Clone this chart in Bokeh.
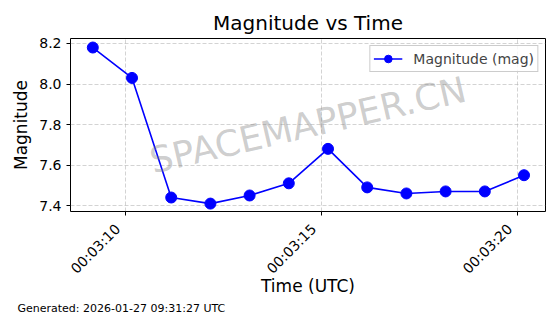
from datetime import datetime, timedelta
import math
from bokeh.plotting import figure
from bokeh.models import (Range1d, DatetimeTickFormatter, FixedTicker, DatetimeAxis,
                          NumeralTickFormatter, Label, Title)
from bokeh.embed import file_html
from bokeh.resources import INLINE

# ---- data ----
times_s = [9.166, 10.166, 11.166, 12.166, 13.166, 14.166, 15.166, 16.166, 17.166, 18.166, 19.166, 20.166]
magnitudes = [8.18, 8.03, 7.44, 7.41, 7.45, 7.51, 7.68, 7.49, 7.46, 7.47, 7.47, 7.55]
x_tick_seconds = [10, 15, 20]
y_ticks = [7.4, 7.6, 7.8, 8.0, 8.2]
title_text = "Magnitude vs Time"
x_label = "Time (UTC)"
y_label = "Magnitude"
legend_text = "Magnitude (mag)"
watermark = "SPACEMAPPER.CN"
footer = "Generated: 2026-01-27 09:31:27 UTC"

base = datetime(2026, 1, 27, 0, 3, 0)
xs = [base + timedelta(seconds=s) for s in times_s]

def ms(s):
    return (base + timedelta(seconds=s)).timestamp() * 1000.0

FONT = "DejaVu Sans"
X0, X1 = 8.597, 20.714
LABEL_SHIFT = 0.2  # seconds: moves rotated labels so their right end sits at the tick

p = figure(width=560, height=314, output_backend="svg", toolbar_location=None,
           x_axis_type="datetime",
           x_range=Range1d(ms(X0), ms(X1)), y_range=Range1d(7.371, 8.2245),
           min_border_left=70, min_border_right=15, min_border_top=38, min_border_bottom=102)
p.extra_x_ranges = {"lab": Range1d(ms(X0 + LABEL_SHIFT), ms(X1 + LABEL_SHIFT))}

p.title.text = title_text
p.title.align = "center"
p.title.text_font = FONT
p.title.text_font_size = "20px"
p.title.text_font_style = "normal"
p.title.text_color = "black"
p.title.standoff = 7

p.outline_line_color = "black"
p.outline_line_width = 1

p.line(xs, magnitudes, line_color="#0000ff", line_width=1.6, legend_label=legend_text)
p.scatter(xs, magnitudes, size=11, fill_color="#0000ff", line_color="#0000ff", legend_label=legend_text)

tick_ms = [ms(s) for s in x_tick_seconds]
fmt = DatetimeTickFormatter(seconds="%H:%M:%S", milliseconds="%H:%M:%S",
                            minsec="%H:%M:%S", minutes="%H:%M:%S")

# primary x axis: tick marks only
xa = p.xaxis[0]
xa.ticker = FixedTicker(ticks=tick_ms)
xa.formatter = fmt
xa.major_label_overrides = {t: "" for t in tick_ms}
xa.major_label_standoff = 0

ya = p.yaxis[0]
ya.ticker = FixedTicker(ticks=y_ticks)
ya.formatter = NumeralTickFormatter(format="0.0")
ya.axis_label = y_label

# secondary x axis: rotated labels + axis title
xa2 = DatetimeAxis(x_range_name="lab", ticker=FixedTicker(ticks=tick_ms), formatter=fmt)
xa2.major_label_orientation = math.pi / 4
xa2.axis_label = x_label
p.add_layout(xa2, "below")

for ax in (xa, ya, xa2):
    ax.axis_line_color = None
    ax.major_tick_out = 4
    ax.major_tick_in = 0
    ax.minor_tick_out = 0
    ax.minor_tick_in = 0
    ax.major_tick_line_color = "black"
    ax.major_label_text_font = FONT
    ax.major_label_text_font_size = "14px"
    ax.major_label_text_color = "black"
    ax.axis_label_text_font = FONT
    ax.axis_label_text_font_size = "17px"
    ax.axis_label_text_font_style = "normal"
    ax.axis_label_text_color = "black"
ya.major_label_standoff = 5
xa2.major_tick_out = 0
xa2.major_tick_line_color = None
xa2.major_label_standoff = 11
xa2.axis_label_standoff = -9

p.xgrid.ticker = xa.ticker
p.ygrid.ticker = ya.ticker
for g in (p.xgrid[0], p.ygrid[0]):
    g.grid_line_color = "#b0b0b0"
    g.grid_line_alpha = 0.7
    g.grid_line_dash = "4 2"
    g.grid_line_width = 0.8

# watermark at axes centre
wm = Label(x=ms((X0 + X1) / 2), y=(7.371 + 8.2245) / 2, text=watermark,
           text_align="center", text_baseline="middle", angle=13, angle_units="deg",
           text_font=FONT, text_font_size="36px", text_color="gray", text_alpha=0.4)
p.add_layout(wm)

# legend
lg = p.legend[0]
lg.location = "top_right"
lg.label_text_font = FONT
lg.label_text_font_size = "14px"
lg.border_line_color = "#cccccc"
lg.border_line_alpha = 1
lg.background_fill_alpha = 0.8
lg.margin = 7
lg.padding = 3
lg.spacing = 0
lg.glyph_width = 29
lg.glyph_height = 19
lg.label_height = 19
lg.label_standoff = 11

# footer
ft = Title(text=footer, align="left", offset=-53, standoff=0,
           text_font=FONT, text_font_size="11px", text_color="black", text_font_style="normal")
p.add_layout(ft, "below")

open("out.html", "w").write(file_html(p, INLINE))
